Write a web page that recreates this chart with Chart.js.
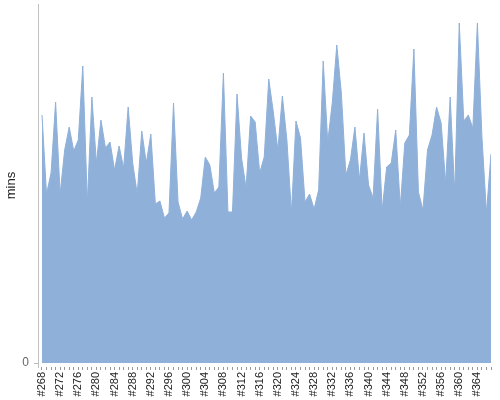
<!DOCTYPE html>
<html>
<head>
<meta charset="utf-8">
<script src="https://cdn.jsdelivr.net/npm/chart.js@4"></script>
<style>
  html, body { margin: 0; padding: 0; background: #fff; }
</style>
</head>
<body>
<canvas id="grafica" width="500" height="400"></canvas>
<script>
const builds = [];
for (let n = 268; n <= 367; n++) builds.push("#" + n);

const mins = [
    24.8, 16.9, 19.0, 26.1, 16.9, 21.3, 23.6, 21.2, 22.3, 29.7,
    16.0, 26.6, 20.0, 24.3, 21.5, 22.1, 19.3, 21.7, 19.5, 25.6,
    20.0, 16.9, 23.2, 20.0, 22.9, 15.9, 16.2, 14.5, 15.0, 26.0,
    16.1, 14.4, 15.2, 14.3, 15.1, 16.5, 20.6, 19.8, 17.0, 17.6,
    29.0, 15.1, 15.1, 26.9, 20.5, 17.5, 24.7, 24.1, 19.0, 20.6,
    28.4, 25.1, 21.3, 26.7, 22.3, 15.0, 24.2, 22.5, 16.1, 16.9,
    15.4, 17.3, 30.2, 22.1, 26.0, 31.8, 27.0, 18.8, 20.3, 23.6,
    18.3, 23.0, 17.8, 16.5, 25.4, 15.3, 19.6, 20.0, 23.3, 15.6,
    22.0, 22.8, 31.4, 17.1, 15.3, 21.3, 22.8, 25.6, 24.0, 18.0,
    26.6, 17.0, 34.0, 24.2, 24.8, 23.5, 34.0, 22.6, 15.0, 20.9
];

const yTicks = [0];

const fuente = "'Liberation Sans', Arial, sans-serif";

const ctx = document.getElementById("grafica").getContext("2d");

new Chart(ctx, {
    type: "line",
    data: {
        datasets: [{
            label: "mins",
            data: mins.map((v, i) => ({ x: i, y: v })),
            borderColor: "#8fb0d9",
            backgroundColor: "#8fb0d9",
            borderWidth: 1,
            pointRadius: 0,
            tension: 0,
            fill: "origin"
        }]
    },
    options: {
        responsive: false,
        animation: false,
        layout: { padding: { top: 4, right: 9, left: 0, bottom: 0 } },
        plugins: {
            legend: { display: false },
            tooltip: { enabled: false }
        },
        scales: {
            x: {
                type: "linear",
                min: -0.88,
                max: builds.length - 1,
                afterBuildTicks: s => { s.ticks = builds.map((_, i) => ({ value: i })); },
                afterFit: s => {
                    s.height = 33;
                    s.paddingLeft = 0;
                    s.paddingRight = 0;
                },
                grid: { drawOnChartArea: false, tickLength: 3, color: "#999" },
                border: { display: false },
                ticks: {
                    autoSkip: false,
                    minRotation: 90,
                    maxRotation: 90,
                    padding: 2,
                    color: "#222",
                    font: { family: fuente, size: 11 },
                    callback: v => (v % 4 === 0 ? builds[v] : "")
                }
            },
            y: {
                min: -0.4,
                max: 35.9,
                afterBuildTicks: s => { s.ticks = yTicks.map(v => ({ value: v })); },
                afterFit: s => {
                    s.width = 38;
                    s.paddingTop = 0;
                    s.paddingBottom = 0;
                },
                grid: { drawOnChartArea: false, tickLength: 4, color: "#bbb" },
                border: { display: true, color: "#c0c0c0" },
                ticks: {
                    padding: 5,
                    color: "#666",
                    font: { family: fuente, size: 12 }
                },
                title: {
                    display: true,
                    text: "mins",
                    color: "#222",
                    padding: 4,
                    font: { family: fuente, size: 13 }
                }
            }
        }
    }
});
</script>
</body>
</html>
